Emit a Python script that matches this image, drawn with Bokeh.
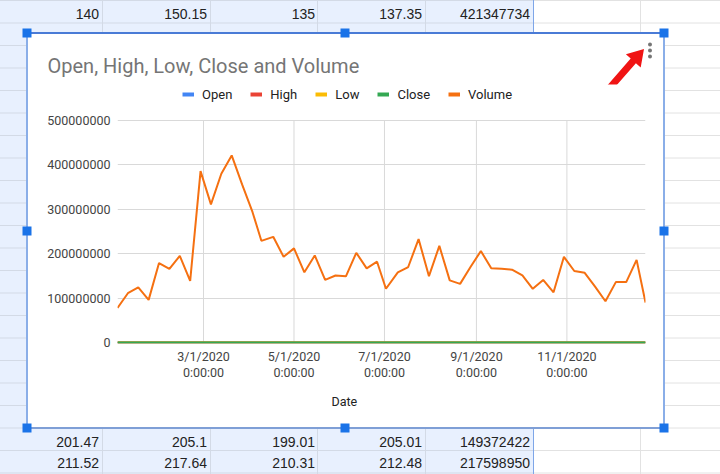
from datetime import datetime

from bokeh.embed import file_html
from bokeh.layouts import column
from bokeh.models import (ColumnDataSource, DatetimeAxis, Div, FixedTicker, Legend,
                          LegendItem, Range1d, Title)
from bokeh.plotting import figure
from bokeh.resources import INLINE

# ---------------- data (weekly, 2020) ----------------
dates = [
    "2020-01-03", "2020-01-10", "2020-01-17", "2020-01-24", "2020-01-31",
    "2020-02-07", "2020-02-14", "2020-02-21", "2020-02-28", "2020-03-06",
    "2020-03-13", "2020-03-20", "2020-03-27", "2020-04-03", "2020-04-09",
    "2020-04-17", "2020-04-24", "2020-05-01", "2020-05-08", "2020-05-15",
    "2020-05-22", "2020-05-29", "2020-06-05", "2020-06-12", "2020-06-19",
    "2020-06-26", "2020-07-02", "2020-07-10", "2020-07-17", "2020-07-24",
    "2020-07-31", "2020-08-07", "2020-08-14", "2020-08-21", "2020-08-28",
    "2020-09-04", "2020-09-11", "2020-09-18", "2020-09-25", "2020-10-02",
    "2020-10-09", "2020-10-16", "2020-10-23", "2020-10-30", "2020-11-06",
    "2020-11-13", "2020-11-20", "2020-11-27", "2020-12-04", "2020-12-11",
    "2020-12-18", "2020-12-24",
]
open_ = [158.78, 157.08, 161.76, 167.40, 164.35, 172.21, 183.58, 185.58, 167.77, 165.31,
         151.00, 140.00, 137.01, 153.00, 160.32, 164.35, 176.63, 176.59, 173.49, 185.94,
         185.75, 186.80, 182.54, 185.94, 184.58, 195.79, 197.88, 210.07, 213.16, 205.00,
         201.47, 211.52, 206.98, 211.49, 213.86, 225.51, 206.50, 207.20, 197.19, 209.35,
         208.00, 218.79, 220.42, 213.85, 204.29, 206.55, 216.10, 212.64, 214.10, 213.36,
         213.10, 218.29]
high = [160.73, 163.22, 167.47, 168.68, 174.05, 190.70, 189.48, 188.18, 172.92, 175.00,
        161.91, 150.15, 160.00, 157.75, 170.00, 180.00, 178.94, 180.40, 185.00, 187.06,
        187.50, 187.00, 187.73, 191.79, 197.84, 201.00, 208.04, 216.38, 215.30, 213.94,
        205.10, 217.64, 211.10, 216.90, 231.15, 232.86, 213.13, 211.00, 209.36, 212.57,
        216.38, 225.21, 221.85, 218.35, 228.12, 228.31, 217.99, 216.38, 216.42, 215.63,
        219.64, 226.62]
low = [156.51, 156.51, 161.26, 164.56, 160.20, 171.54, 181.95, 177.08, 152.00, 156.88,
       138.58, 135.00, 132.52, 150.01, 158.90, 160.31, 166.46, 169.32, 173.12, 175.68,
       181.35, 178.10, 180.56, 181.35, 182.52, 194.04, 196.60, 207.00, 198.60, 200.00,
       199.01, 210.31, 203.53, 208.57, 212.01, 202.62, 200.12, 199.58, 196.25, 205.06,
       204.82, 214.23, 210.00, 199.62, 203.13, 204.85, 209.11, 208.16, 210.12, 209.11,
       212.72, 217.31]
close = [158.62, 161.34, 167.10, 165.04, 170.23, 183.89, 185.35, 178.59, 162.01, 161.57,
         158.83, 137.35, 149.70, 153.83, 165.14, 178.60, 174.55, 174.57, 184.68, 183.16,
         183.51, 183.25, 187.20, 187.74, 195.15, 196.33, 206.26, 213.67, 202.88, 201.30,
         205.01, 212.48, 208.90, 213.02, 228.91, 214.25, 204.03, 200.39, 207.82, 206.19,
         215.81, 219.66, 214.89, 202.47, 223.72, 216.51, 210.39, 215.23, 214.36, 213.26,
         218.59, 222.75]
volume = [77800000, 111000000, 124000000, 96000000, 179000000, 166000000, 195000000,
          139000000, 386000000, 311000000, 380000000, 421347734, 356000000, 294000000,
          229000000, 238000000, 193000000, 212000000, 158000000, 196000000, 141000000,
          151000000, 149000000, 202000000, 167000000, 182000000, 121000000, 158000000,
          170000000, 233000000, 149372422, 217598950, 140000000, 132000000, 170000000,
          206000000, 167000000, 166000000, 164000000, 151000000, 121000000, 141000000,
          113000000, 193000000, 161000000, 157000000, 126000000, 93000000, 136000000,
          136000000, 186000000, 90000000]

series_names = ["Open", "High", "Low", "Close", "Volume"]
series_colors = ["#4285f4", "#ea4335", "#fbbc04", "#34a853", "#f57011"]

x_tick_dates = ["2020-03-01", "2020-05-01", "2020-07-01", "2020-09-01", "2020-11-01"]
x_tick_labels = ["3/1/2020", "5/1/2020", "7/1/2020", "9/1/2020", "11/1/2020"]
x_tick_times = ["0:00:00", "0:00:00", "0:00:00", "0:00:00", "0:00:00"]
y_ticks = [0, 100000000, 200000000, 300000000, 400000000, 500000000]
y_tick_labels = ["0", "100000000", "200000000", "300000000", "400000000", "500000000"]

# spreadsheet cells visible around the chart
top_row = ["140", "150.15", "135", "137.35", "421347734"]
bottom_rows = [["201.47", "205.1", "199.01", "205.01", "149372422"],
               ["211.52", "217.64", "210.31", "212.48", "217598950"]]

# ---------------- chart ----------------
FONT = "Roboto"
dts = [datetime.strptime(d, "%Y-%m-%d") for d in dates]
tick_dts = [datetime.strptime(d, "%Y-%m-%d") for d in x_tick_dates]
src = ColumnDataSource(dict(date=dts, Open=open_, High=high, Low=low,
                            Close=close, Volume=volume))


def to_ms(s):
    return (datetime.strptime(s, "%Y-%m-%d") - datetime(1970, 1, 1)).total_seconds() * 1000.0


x_ticks = [to_ms(s) for s in x_tick_dates]

# plot area: 222 px for 0..500M, 1 px below zero so the baseline lines show fully,
# and 36 px headroom above that holds the legend row
px_per_unit = 222.0 / y_ticks[-1]
y_bottom = -1.0 / px_per_unit
y_top = y_ticks[-1] + 36.0 / px_per_unit

p = figure(width=634, height=393, x_axis_type="datetime",
           x_range=Range1d(dts[0], dts[-1]), y_range=Range1d(y_bottom, y_top),
           output_backend="svg", toolbar_location=None,
           min_border_left=89, min_border_right=17, min_border_top=50, min_border_bottom=84)
p.margin = (34, 0, 0, 28)
p.border_fill_alpha = 0
p.background_fill_color = "white"
p.outline_line_color = None

# vertical grid lines only across the value range
p.segment(x0=tick_dts, y0=[y_ticks[0]] * len(tick_dts), x1=tick_dts,
          y1=[y_ticks[-1]] * len(tick_dts), line_color="#d9d9d9", line_width=1)

for name, color in zip(series_names, series_colors):
    p.line("date", name, source=src, line_color=color, line_width=2)

# legend swatches
items = []
for name, color in zip(series_names, series_colors):
    d = p.line(x=[dts[0]], y=[-1e9], line_color=color, line_width=4)
    items.append(LegendItem(label=name, renderers=[d]))
legend = Legend(items=items, orientation="horizontal", location=(65, 241),
                glyph_width=12, glyph_height=16, label_height=16, label_standoff=8,
                spacing=18, padding=0, margin=0, border_line_color=None,
                background_fill_alpha=0, label_text_font=FONT,
                label_text_font_size="13px", label_text_color="#222222")
p.add_layout(legend, "center")

p.title = Title(text="Open, High, Low, Close and Volume", align="left", offset=-70,
                text_font=FONT, text_font_size="20px", text_font_style="normal",
                text_color="#757575", standoff=14)

p.xaxis.ticker = FixedTicker(ticks=x_ticks)
p.xaxis.major_label_overrides = {t: l for t, l in zip(x_ticks, x_tick_labels)}
ax2 = DatetimeAxis(ticker=FixedTicker(ticks=x_ticks),
                   major_label_overrides={t: l for t, l in zip(x_ticks, x_tick_times)})
p.add_layout(ax2, "below")
p.yaxis.ticker = FixedTicker(ticks=y_ticks)
p.yaxis.major_label_overrides = {t: l for t, l in zip(y_ticks, y_tick_labels)}
for ax in (p.xaxis[0], ax2, p.yaxis[0]):
    ax.axis_line_color = None
    ax.major_tick_line_color = None
    ax.minor_tick_line_color = None
    ax.major_tick_out = 0
    ax.major_tick_in = 0
    ax.minor_tick_out = 0
    ax.minor_tick_in = 0
    ax.major_label_text_font = FONT
    ax.major_label_text_font_size = "12.5px"
    ax.major_label_text_color = "#444444"
p.xaxis[0].major_label_standoff = 5
ax2.major_label_standoff = -2
p.yaxis.major_label_standoff = 7
p.xgrid.visible = False
p.ygrid.grid_line_color = "#d9d9d9"

p.add_layout(Title(text="Date", align="left", offset=214, text_font=FONT,
                   text_font_size="12.5px", text_font_style="normal",
                   text_color="#222222", standoff=18), "below")

# ---------------- spreadsheet backdrop ----------------
svg = ['<svg xmlns="http://www.w3.org/2000/svg" width="720" height="474" '
       'style="display:block" font-family="Roboto">']
svg.append('<rect x="0" y="0" width="720" height="474" fill="#ffffff"/>')
svg.append('<rect x="0" y="0" width="533" height="474" fill="#e8f0fe"/>')
yy = 0.5
while yy <= 474:
    svg.append(f'<line x1="0" y1="{yy}" x2="533" y2="{yy}" stroke="#d3dae6"/>')
    svg.append(f'<line x1="533" y1="{yy}" x2="720" y2="{yy}" stroke="#e2e2e2"/>')
    yy += 22.5
for xx in [102.5, 210.5, 317.5, 425.5]:
    svg.append(f'<line x1="{xx}" y1="0" x2="{xx}" y2="474" stroke="#d3dae6"/>')
svg.append('<line x1="640.5" y1="0" x2="640.5" y2="474" stroke="#e2e2e2"/>')
svg.append('<line x1="533.5" y1="0" x2="533.5" y2="474" stroke="#7ea6e8"/>')
col_ends = [99, 207, 315, 422, 530]
for txt, xe in zip(top_row, col_ends):
    svg.append(f'<text x="{xe}" y="19" text-anchor="end" font-size="14" fill="#222">{txt}</text>')
for row, base in zip(bottom_rows, [446.5, 467.5]):
    for txt, xe in zip(row, col_ends):
        svg.append(f'<text x="{xe}" y="{base}" text-anchor="end" font-size="14" fill="#222">{txt}</text>')
# chart box
svg.append('<rect x="27" y="33" width="637" height="395" fill="#ffffff"/>')
svg.append('<line x1="27" y1="33" x2="664" y2="33" stroke="#4a7bd6" stroke-width="2"/>')
svg.append('<line x1="27" y1="428" x2="664" y2="428" stroke="#7f9fd6" stroke-width="2"/>')
svg.append('<line x1="27" y1="33" x2="27" y2="428" stroke="#8aaee8" stroke-width="2"/>')
svg.append('<line x1="664" y1="33" x2="664" y2="428" stroke="#8aaee8" stroke-width="2"/>')
for hx, hy in [(27, 33), (345, 33), (664, 33), (27, 231), (664, 231),
               (27, 428), (345, 428), (664, 428)]:
    svg.append(f'<rect x="{hx - 4.5}" y="{hy - 4.5}" width="9" height="9" fill="#1a73e8"/>')
for dy in [44.5, 50.5, 56.5]:
    svg.append(f'<circle cx="650" cy="{dy}" r="2" fill="#757575"/>')
svg.append('<polygon points="644,49 640.7,67.6 635.9,63.2 609.6,93.3 604.4,88.7 '
           '630.7,58.6 625.9,54.2" fill="#f01414"/>')
svg.append('</svg>')

bg = Div(text="".join(svg), width=720, height=474, margin=0,
         styles={"position": "absolute", "left": "0px", "top": "0px"})

layout = column(bg, p, margin=0, spacing=0)
open("out.html", "w").write(file_html(layout, INLINE))
